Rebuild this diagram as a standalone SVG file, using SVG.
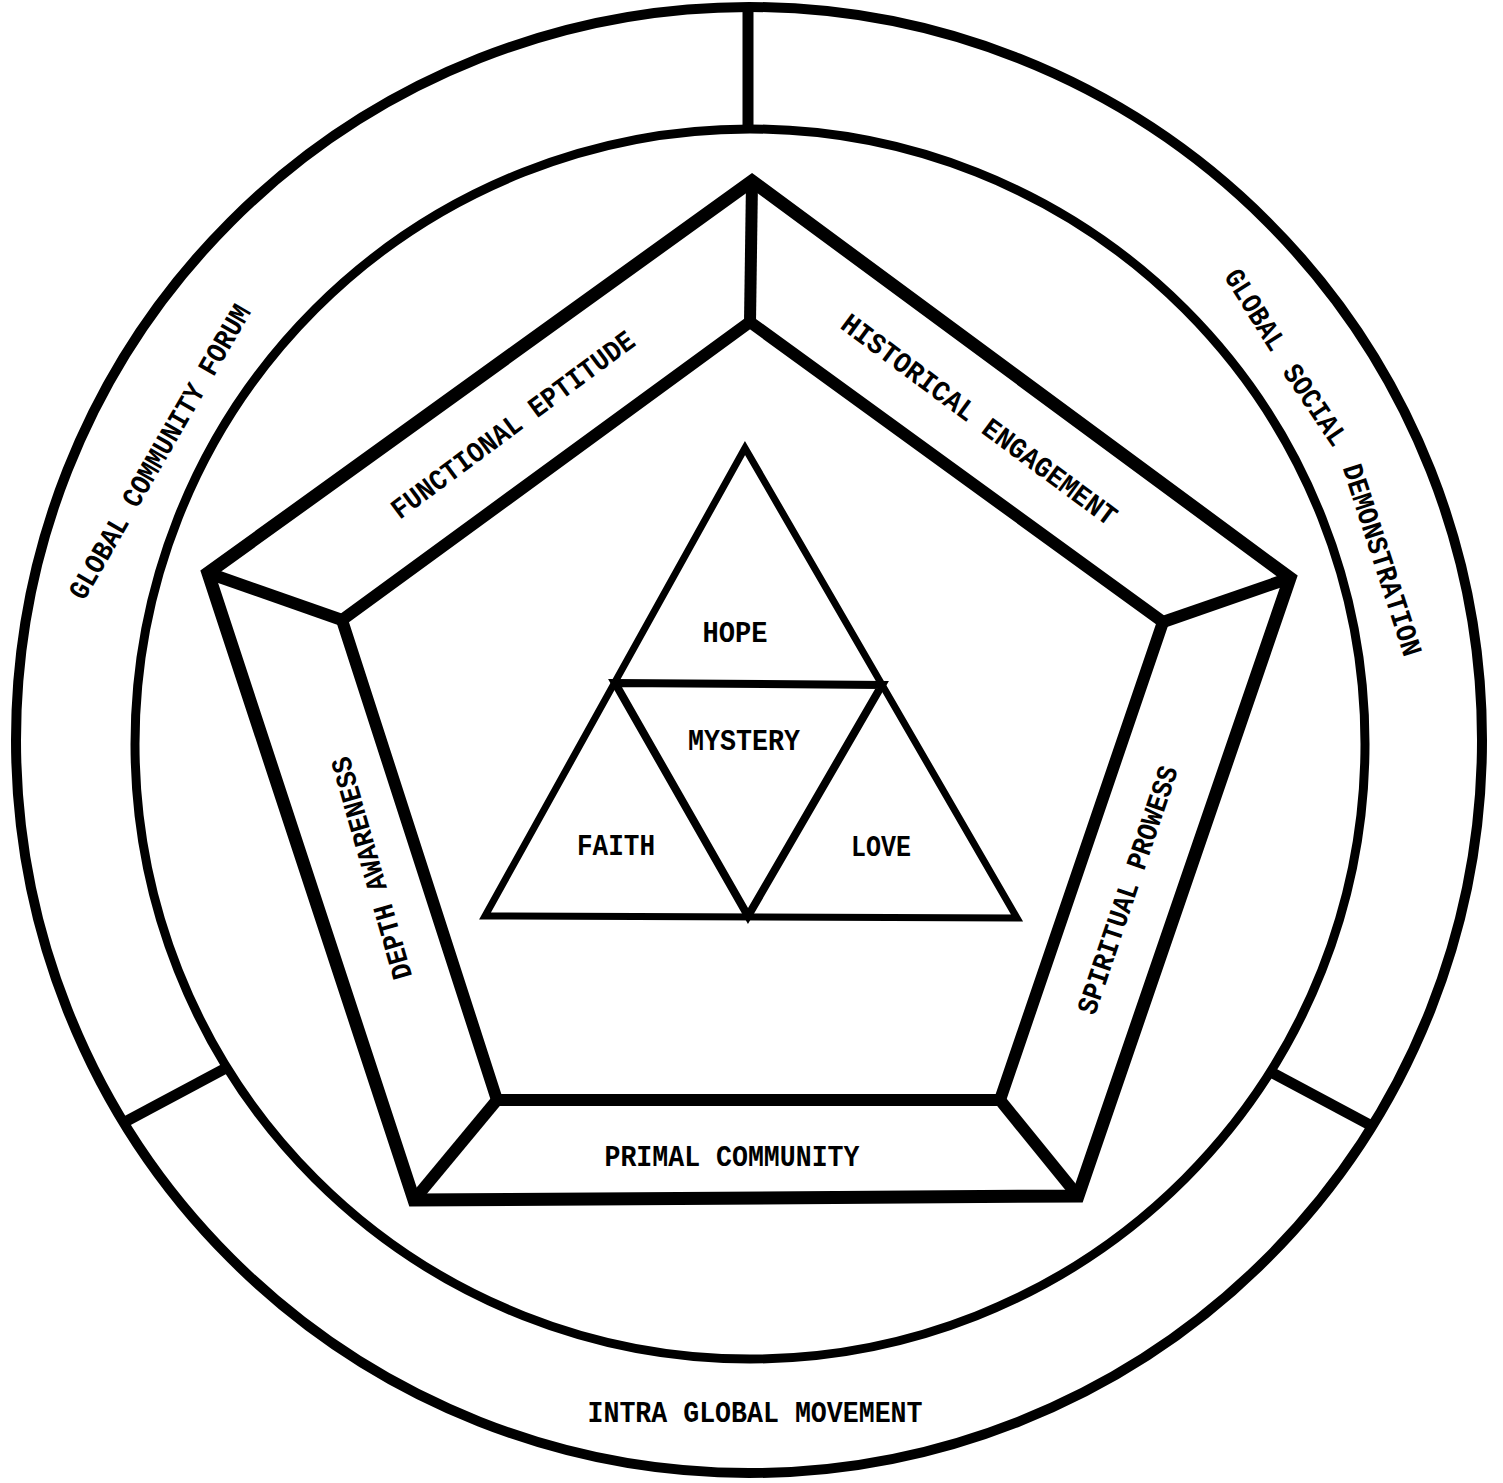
<svg xmlns="http://www.w3.org/2000/svg" width="1503" height="1483" viewBox="0 0 1503 1483">
<style>
.bg{fill:#fff}
.ln{fill:none;stroke:#000;stroke-linejoin:miter;stroke-miterlimit:10}
.c1{stroke-width:10}
.c2{stroke-width:9}
.pg{stroke-width:13}
.pi{stroke-width:12}
.tr{stroke-width:7}
.ti{stroke-width:8}
.dv{stroke:#000;stroke-width:11;stroke-linecap:butt}
.t{font-family:"Liberation Mono","Courier New",monospace;font-weight:bold;font-size:29px;fill:#000;text-anchor:middle}
</style>
<rect class="bg" x="0" y="0" width="1503" height="1483"/>

<g id="outer-ring">
  <circle class="ln c1" cx="749" cy="740" r="733"/>
  <circle class="ln c2" cx="750" cy="744" r="615"/>
</g>

<g id="pentagon">
  <polygon class="ln pg" points="752,181 1290,578 1078,1196 414,1200 208,573"/>
  <polygon class="ln pi" points="750,322 1163,622 1000,1100 497,1100 342,620"/>
</g>

<g id="connectors">
  <line class="dv" x1="748" y1="8" x2="748" y2="133"/>
  <line class="dv" x1="123" y1="1123" x2="226" y2="1068"/>
  <line class="dv" x1="1269" y1="1071" x2="1370" y2="1125"/>
  <line class="dv" x1="752" y1="181" x2="750" y2="322" style="stroke-width:12"/>
  <line class="dv" x1="208" y1="573" x2="342" y2="620" style="stroke-width:12"/>
  <line class="dv" x1="1290" y1="578" x2="1163" y2="622" style="stroke-width:12"/>
  <line class="dv" x1="414" y1="1200" x2="497" y2="1100" style="stroke-width:12"/>
  <line class="dv" x1="1078" y1="1196" x2="1000" y2="1100" style="stroke-width:12"/>
</g>

<g id="triangle">
  <polygon class="ln tr" points="745,448 485,916 1017,918"/>
  <polygon class="ln ti" points="615,683 882,685 748,916"/>
</g>

<g id="global-community-forum">
  <text class="t" transform="translate(160,452) rotate(-60)" x="0" y="9" textLength="335" lengthAdjust="spacingAndGlyphs">GLOBAL COMMUNITY FORUM</text>
</g>
<g id="global-social-demonstration">
  <text class="t" transform="translate(1255,310) rotate(58)" x="0" y="9" textLength="90" lengthAdjust="spacingAndGlyphs">GLOBAL</text>
  <text class="t" transform="translate(1315,405) rotate(56)" x="0" y="9" textLength="92" lengthAdjust="spacingAndGlyphs">SOCIAL</text>
  <text class="t" transform="translate(1382,560) rotate(72)" x="0" y="9" textLength="200" lengthAdjust="spacingAndGlyphs">DEMONSTRATION</text>
</g>
<g id="intra-global-movement">
  <text class="t" x="755" y="1422" textLength="335" lengthAdjust="spacingAndGlyphs">INTRA GLOBAL MOVEMENT</text>
</g>

<g id="functional-eptitude">
  <text class="t" transform="translate(513,425) rotate(-36.5)" x="0" y="9" textLength="295" lengthAdjust="spacingAndGlyphs">FUNCTIONAL EPTITUDE</text>
</g>
<g id="historical-engagement">
  <text class="t" transform="translate(979,420) rotate(36.5)" x="0" y="9" textLength="335" lengthAdjust="spacingAndGlyphs">HISTORICAL ENGAGEMENT</text>
</g>
<g id="spiritual-prowess">
  <text class="t" transform="translate(1128,890) rotate(-71.3)" x="0" y="9" textLength="260" lengthAdjust="spacingAndGlyphs">SPIRITUAL PROWESS</text>
</g>
<g id="primal-community">
  <text class="t" x="732" y="1166" textLength="255" lengthAdjust="spacingAndGlyphs">PRIMAL COMMUNITY</text>
</g>
<g id="depth-awareness">
  <text class="t" transform="translate(372,868) rotate(-106)" x="0" y="9" textLength="230" lengthAdjust="spacingAndGlyphs">DEPTH AWARENESS</text>
</g>

<g id="hope">
  <text class="t" x="735" y="642" textLength="65" lengthAdjust="spacingAndGlyphs">HOPE</text>
</g>
<g id="mystery">
  <text class="t" x="744" y="750" textLength="112" lengthAdjust="spacingAndGlyphs">MYSTERY</text>
</g>
<g id="faith">
  <text class="t" x="616" y="855" textLength="78" lengthAdjust="spacingAndGlyphs">FAITH</text>
</g>
<g id="love">
  <text class="t" x="881" y="856" textLength="60" lengthAdjust="spacingAndGlyphs">LOVE</text>
</g>
</svg>
